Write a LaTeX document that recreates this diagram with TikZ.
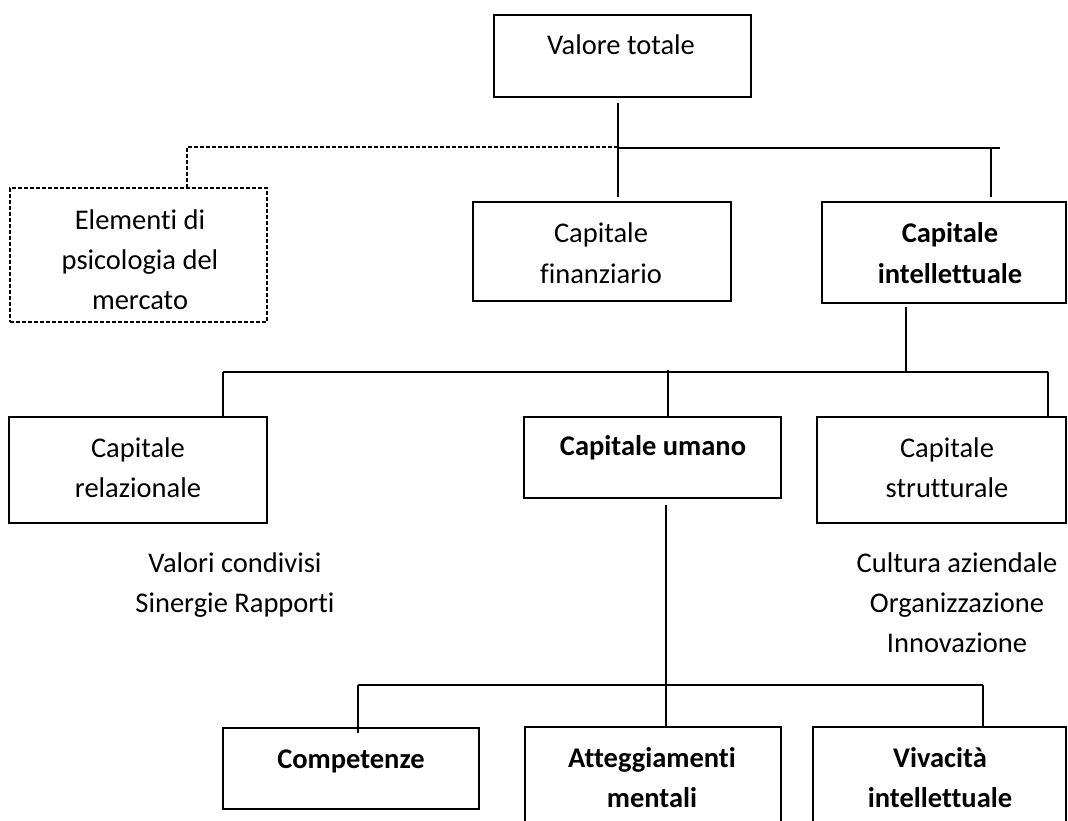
\documentclass[tikz,border=0pt]{standalone}
\usepackage{fontspec}
\setmainfont{Carlito}[Ligatures={NoCommon}]
\begin{document}
\begin{tikzpicture}[x=1pt, y=-1pt,
  box/.style={draw, line width=1.6pt, inner sep=0pt, outer sep=0pt},
  dbox/.style={box, line width=1.3pt, dash pattern=on 4pt off 2pt},
  conn/.style={line width=1.4pt},
  dconn/.style={line width=1.3pt, dash pattern=on 4pt off 2pt},
  % multi-line labels: the base anchor sits on the last line
  lbl/.style={align=center, anchor=base, inner sep=0pt,
              font=\fontsize{28.5}{40}\selectfont},
  blbl/.style={lbl, font=\fontsize{28.5}{40}\selectfont\bfseries}]
\useasboundingbox (0,0) rectangle (1068,821);
\clip (0,0) rectangle (1068,821);

% boxes
\node[box, minimum width=257pt, minimum height=82pt]  (vt)   at (622.5,56) {};
\node[dbox, minimum width=257pt, minimum height=134pt] (el)  at (138.5,255) {};
\node[box, minimum width=258pt, minimum height=99pt]  (fin)  at (602,251.5) {};
\node[box, minimum width=244pt, minimum height=101pt] (ci)   at (944,252.5) {};
\node[box, minimum width=258pt, minimum height=106pt] (rel)  at (138,470) {};
\node[box, minimum width=257pt, minimum height=81pt]  (um)   at (652.5,457.5) {};
\node[box, minimum width=249pt, minimum height=106pt] (str)  at (941.5,470) {};
\node[box, minimum width=256pt, minimum height=81pt]  (comp) at (351,768.5) {};
\node[box, minimum width=256pt, minimum height=113pt] (att)  at (653,783.5) {};
\node[box, minimum width=253pt, minimum height=113pt] (viv)  at (939.5,783.5) {};

% texts
\node[lbl]  (tvt)   at (621,55)  {Valore totale};
\node[lbl]  (tel)   at (140,309) {Elementi di\\psicologia del\\mercato};
\node[lbl]  (tfin)  at (601,283) {Capitale\\finanziario};
\node[blbl] (tci)   at (950,283) {Capitale\\intellettuale};
\node[lbl]  (trel)  at (138,497) {Capitale\\relazionale};
\node[blbl] (tum)   at (653,455) {Capitale umano};
\node[lbl]  (tstr)  at (947,497) {Capitale\\strutturale};
\node[lbl]  (trelx) at (235,612) {Valori condivisi\\Sinergie Rapporti};
\node[lbl]  (tstrx) at (957,652) {Cultura aziendale\\Organizzazione\\Innovazione};
\node[blbl] (tcomp) at (351,768) {Competenze};
\node[blbl] (tatt)  at (652,807) {Atteggiamenti\\mentali};
\node[blbl] (tviv)  at (940,807) {Vivacità\\intellettuale};

% junctions
\coordinate (j1)  at (618,148);
\coordinate (j1r) at (1000,148);
\coordinate (jci) at (991,148);
\coordinate (jd)  at (187,147);
\coordinate (j2)  at (906,372);
\coordinate (j2l) at (223,372);
\coordinate (j2m) at (668,370);
\coordinate (j2r) at (1048,372);
\coordinate (j3)  at (666,685);
\coordinate (j3l) at (358,685);
\coordinate (j3r) at (983,685);

% top level
\draw[conn, shorten <=6pt, shorten >=5pt] (vt.south -| j1) -- (fin.north -| j1);
\draw[conn, line width=1.8pt] (j1) -- (j1r);
\draw[conn, shorten >=5pt] (jci) -- (ci.north -| jci);
\draw[dconn] (j1 |- jd) -- (jd) -- (el.north -| jd);

% intellectual capital branch
\draw[conn, shorten <=4pt] (ci.south -| j2) -- (j2);
\draw[conn, line width=1.8pt] (j2l) -- (j2r);
\draw[conn] (j2l) -- (rel.north -| j2l);
\draw[conn] (j2m) -- (um.north -| j2m);
\draw[conn] (j2r) -- (str.north -| j2r);

% human capital branch
\draw[conn, shorten <=7pt] (um.south -| j3) -- (j3);
\draw[conn, line width=1.8pt] (j3l) -- (j3r);
\draw[conn, shorten >=-5pt] (j3l) -- (comp.north -| j3l);
\draw[conn] (j3) -- (att.north -| j3);
\draw[conn] (j3r) -- (viv.north -| j3r);
\end{tikzpicture}
\end{document}
